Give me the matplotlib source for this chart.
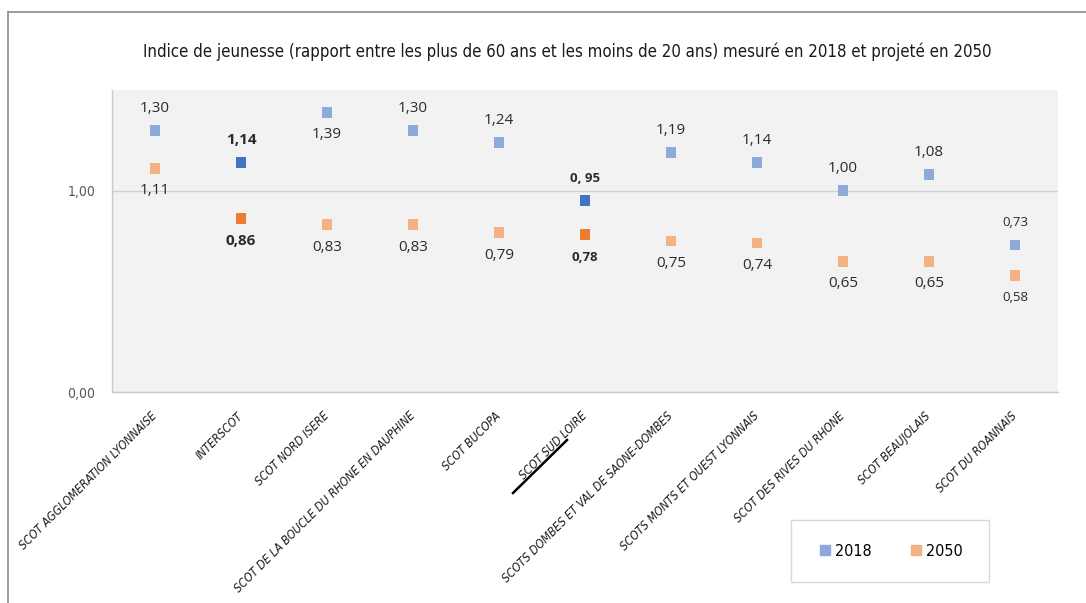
import matplotlib
matplotlib.use("Agg")
import matplotlib.pyplot as plt
from matplotlib import font_manager as fm
from matplotlib.lines import Line2D
from matplotlib.patches import Rectangle
from matplotlib.font_manager import FontProperties

# ---------------- data ----------------
categories = [
    "SCOT AGGLOMERATION LYONNAISE",
    "INTERSCOT",
    "SCOT NORD ISERE",
    "SCOT DE LA BOUCLE DU RHONE EN DAUPHINE",
    "SCOT BUCOPA",
    "SCOT SUD LOIRE",
    "SCOTS DOMBES ET VAL DE SAONE-DOMBES",
    "SCOTS MONTS ET OUEST LYONNAIS",
    "SCOT DES RIVES DU RHONE",
    "SCOT BEAUJOLAIS",
    "SCOT DU ROANNAIS",
]
values_2018 = [1.30, 1.14, 1.39, 1.30, 1.24, 0.95, 1.19, 1.14, 1.00, 1.08, 0.73]
values_2050 = [1.11, 0.86, 0.83, 0.83, 0.79, 0.78, 0.75, 0.74, 0.65, 0.65, 0.58]
labels_2018 = ["1,30", "1,14", "1,39", "1,30", "1,24", "0, 95", "1,19", "1,14", "1,00", "1,08", "0,73"]
labels_2050 = ["1,11", "0,86", "0,83", "0,83", "0,79", "0,78", "0,75", "0,74", "0,65", "0,65", "0,58"]
series_names = ["2018", "2050"]
ytick_values = [0.0, 1.0]
ytick_labels = ["0,00", "1,00"]
title = ("Indice de jeunesse (rapport entre les plus de 60 ans et les moins de 20 ans) "
         "mesuré en 2018 et projeté en 2050")

# ---------------- styles ----------------
light_blue, dark_blue = "#8eaadb", "#4472c4"
light_orange, dark_orange = "#f4b183", "#ed7d31"
highlight = [1, 5]              # highlighted categories (darker, bold labels)
small_label = [5, 10]           # smaller label font
pos_2018 = [1, 1, -1, 1, 1, 1, 1, 1, 1, 1, 1]   # +1 above, -1 below
pos_2050 = [-1] * 11

avail = {f.name for f in fm.fontManager.ttflist}
NARROW = "Liberation Sans Narrow" if "Liberation Sans Narrow" in avail else "DejaVu Sans"
NSTRETCH = "normal" if NARROW != "DejaVu Sans" else "condensed"
LABELF = "Open Sans" if "Open Sans" in avail else "DejaVu Sans"

W, H = 1086, 603
fig = plt.figure(figsize=(W / 100, H / 100), dpi=100)
fig.patch.set_facecolor("white")

# outer frame (left & top)
fig.add_artist(Line2D([8 / W, 8 / W], [0, 1 - 12 / H], transform=fig.transFigure,
                      color="#8c8c8c", lw=1.2))
fig.add_artist(Line2D([8 / W, 1], [1 - 12 / H, 1 - 12 / H], transform=fig.transFigure,
                      color="#8c8c8c", lw=1.2))

x0, x1, ytop, ybot = 112, 1058, 90, 392
ax = fig.add_axes([x0 / W, 1 - ybot / H, (x1 - x0) / W, (ybot - ytop) / H])
ax.set_facecolor("#f2f2f2")
ax.set_xlim(-0.5, len(categories) - 0.5)
ax.set_ylim(0, 1.5)

for s in ["top", "right"]:
    ax.spines[s].set_visible(False)
for s in ["left", "bottom"]:
    ax.spines[s].set_color("#c8c8c8")
    ax.spines[s].set_linewidth(1)

ax.set_yticks(ytick_values)
ax.set_yticklabels(ytick_labels, fontproperties=FontProperties(family=NARROW, stretch=NSTRETCH, size=10),
                   color="#595959")
ax.yaxis.grid(True, color="#d0d0d0", lw=1)
ax.set_axisbelow(True)
ax.tick_params(axis="y", length=0, pad=12)

xs = list(range(len(categories)))
ax.set_xticks(xs)
ax.set_xticklabels(categories, rotation=45, ha="right", va="center", rotation_mode="anchor",
                   fontproperties=FontProperties(family=NARROW, stretch=NSTRETCH, style="italic", size=8.6),
                   color="#1a1a1a")
ax.tick_params(axis="x", length=0, pad=16)

c18 = [dark_blue if i in highlight else light_blue for i in xs]
c50 = [dark_orange if i in highlight else light_orange for i in xs]
ax.scatter(xs, values_2018, marker="s", s=62, c=c18, zorder=3, linewidths=0)
ax.scatter(xs, values_2050, marker="s", s=62, c=c50, zorder=3, linewidths=0)

def put_labels(vals, labels, pos):
    for i, (v, t, p) in enumerate(zip(vals, labels, pos)):
        bold = i in highlight
        size = 9.5 if i in small_label else 11
        ax.annotate(t, (i, v), xytext=(0, 16 * p), textcoords="offset points",
                    ha="center", va="center", fontsize=size, family=LABELF,
                    fontweight="bold" if bold else "normal", color="#2b2b2b", zorder=4)

put_labels(values_2018, labels_2018, pos_2018)
put_labels(values_2050, labels_2050, pos_2050)

# title, fitted to the reference width
t = fig.text(567 / W, 1 - 52 / H, title, ha="center", va="center",
             fontproperties=FontProperties(family=NARROW, stretch=NSTRETCH, size=16), color="#1a1a1a")
fig.canvas.draw()
wpx = t.get_window_extent().width
t.set_fontsize(16 * 852 / wpx)

# legend box
fig.add_artist(Rectangle((791 / W, 1 - 582 / H), (989 - 791) / W, 62 / H, transform=fig.transFigure,
                         facecolor="white", edgecolor="#d9d9d9", lw=1))
handles = [Line2D([], [], marker="s", ls="none", color=light_blue, markersize=7),
           Line2D([], [], marker="s", ls="none", color=light_orange, markersize=7)]
fig.legend(handles, series_names, loc="center", bbox_to_anchor=(891 / W, 1 - 551 / H),
           ncol=2, frameon=False, handlelength=0.7, handletextpad=0.3, columnspacing=2.4,
           prop=FontProperties(family=NARROW, stretch=NSTRETCH, size=11.5))

# hand-drawn stroke over "SCOT SUD LOIRE"
fig.add_artist(Line2D([513 / W, 567 / W], [1 - 493 / H, 1 - 440 / H], transform=fig.transFigure,
                      color="black", lw=1.8))

fig.savefig("out.png", dpi=100, facecolor="white")
